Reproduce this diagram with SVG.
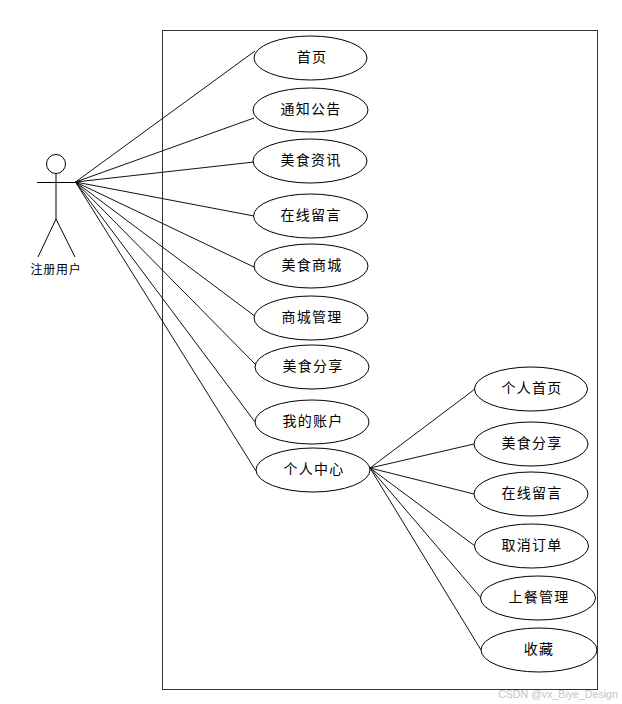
<svg xmlns="http://www.w3.org/2000/svg" width="622" height="704" viewBox="0 0 622 704">
<style>
text{font-family:"Liberation Sans","Noto Sans CJK SC",sans-serif;font-size:14px;fill:#000;text-anchor:middle;letter-spacing:1.2px}
ellipse,circle,rect{fill:#fff;stroke:#000;stroke-width:1}
line{stroke:#000;stroke-width:1}
#connectors line{stroke:#111}
</style>
<rect width="622" height="704" fill="#fff" stroke="none" style="stroke:none"/>
<rect id="boundary" x="162.500" y="30.500" width="435" height="659" style="fill:none;stroke:#333"/>
<g id="connectors">
<line x1="75.500" y1="182" x2="255" y2="51"/>
<line x1="75.500" y1="182" x2="254" y2="118"/>
<line x1="75.500" y1="182" x2="254" y2="162"/>
<line x1="75.500" y1="182" x2="254" y2="216"/>
<line x1="75.500" y1="182" x2="256" y2="268"/>
<line x1="75.500" y1="182" x2="256" y2="317"/>
<line x1="75.500" y1="182" x2="256" y2="365"/>
<line x1="75.500" y1="182" x2="255" y2="422"/>
<line x1="75.500" y1="182" x2="256" y2="471"/>
<line x1="370" y1="468" x2="475" y2="389"/>
<line x1="370" y1="468" x2="474" y2="444"/>
<line x1="370" y1="468" x2="474" y2="494"/>
<line x1="370" y1="468" x2="475" y2="546"/>
<line x1="370" y1="468" x2="481" y2="598"/>
<line x1="370" y1="468" x2="481" y2="650"/>
</g>
<g id="actor">
<circle cx="56" cy="164" r="9.500"/>
<line x1="56" y1="173" x2="56" y2="219"/>
<line x1="37" y1="182.500" x2="76" y2="182.500"/>
<line x1="56" y1="219" x2="38" y2="257"/>
<line x1="56" y1="219" x2="75" y2="257"/>
<text x="56" y="274" style="font-size:12px;letter-spacing:.7px">注册用户</text>
</g>
<g id="n1"><ellipse cx="310.500" cy="58" rx="56.500" ry="22"/><text x="312" y="62">首页</text></g>
<g id="n2"><ellipse cx="310.500" cy="110" rx="57.500" ry="22"/><text x="311" y="114">通知公告</text></g>
<g id="n3"><ellipse cx="310" cy="161" rx="57" ry="22"/><text x="311" y="165">美食资讯</text></g>
<g id="n4"><ellipse cx="310.500" cy="216" rx="57" ry="22"/><text x="311" y="220">在线留言</text></g>
<g id="n5"><ellipse cx="311" cy="266" rx="57" ry="22"/><text x="312" y="270">美食商城</text></g>
<g id="n6"><ellipse cx="311" cy="318" rx="57" ry="22"/><text x="312" y="322">商城管理</text></g>
<g id="n7"><ellipse cx="312" cy="367" rx="57" ry="22"/><text x="313" y="371">美食分享</text></g>
<g id="n8"><ellipse cx="312" cy="422" rx="57" ry="22"/><text x="313" y="426">我的账户</text></g>
<g id="n9"><ellipse cx="313" cy="470" rx="57" ry="22"/><text x="314" y="474">个人中心</text></g>
<g id="n10"><ellipse cx="531" cy="389" rx="56.500" ry="22"/><text x="532" y="393">个人首页</text></g>
<g id="n11"><ellipse cx="531" cy="444" rx="57" ry="22"/><text x="532" y="448">美食分享</text></g>
<g id="n12"><ellipse cx="531" cy="494" rx="57" ry="22"/><text x="532" y="498">在线留言</text></g>
<g id="n13"><ellipse cx="531.500" cy="546" rx="57" ry="22"/><text x="532" y="550">取消订单</text></g>
<g id="n14"><ellipse cx="538" cy="598" rx="57.500" ry="22"/><text x="539" y="602">上餐管理</text></g>
<g id="n15"><ellipse cx="539" cy="650" rx="58" ry="22"/><text x="539" y="654">收藏</text></g>
<text x="558" y="698" style="font-size:10.600px;fill:#c4c4c4;letter-spacing:0">CSDN @vx_Biye_Design</text>
</svg>
